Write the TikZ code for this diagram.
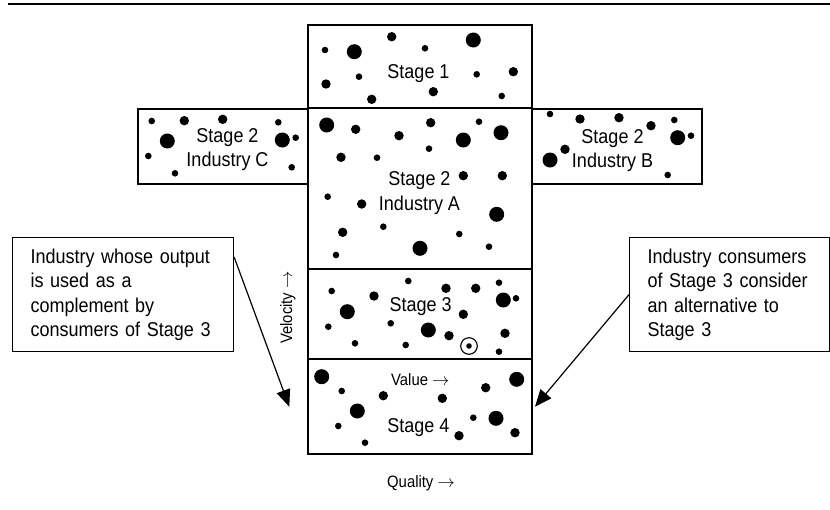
\documentclass[tikz,border=0pt]{standalone}
\usepackage{fontspec}
\setmainfont{Liberation Sans}[FakeStretch=0.9]
\usetikzlibrary{positioning,arrows.meta}
\tikzset{
  stagebox/.style={draw, line width=1.1pt, minimum width=224pt, inner sep=0pt},
  sidebox/.style={draw, line width=1.1pt, minimum width=170pt,
                  minimum height=75pt, inner sep=0pt},
  stagelabel/.style={font=\fontsize{20}{24.5}\selectfont, align=center,
                     anchor=base, inner sep=0pt},
  notebox/.style={draw, line width=1.1pt, align=left, anchor=north west,
                  inner xsep=18pt, inner ysep=11pt,
                  font=\fontsize{20}{24.5}\selectfont},
  axislabel/.style={font=\fontsize{16.5}{19}\selectfont, anchor=base,
                    inner sep=0pt},
  calloutarrow/.style={-{Triangle[length=17pt,width=14pt]}, line width=1.2pt},
  smalldot/.style={fill=black, radius=3.3},
  middot/.style={fill=black, radius=4.7},
  bigdot/.style={fill=black, radius=7.5},
}

\begin{document}
\begin{tikzpicture}[x=1pt,y=-1pt]
\useasboundingbox (0,0) rectangle (830,509);
\draw[line width=1.5pt] (8,4) -- (830,4);
%% Stage boxes
\node[stagebox, minimum height=83pt]  (st1) at (420,66.5)  {};
\node[stagebox, minimum height=161pt] (st2a) at (420,188.5) {};
\node[sidebox] (st2c) at (223,146.5) {};
\node[sidebox] (st2b) at (617,146.5) {};
\node[stagebox, minimum height=90pt]  (st3) at (420,314)   {};
\node[stagebox, minimum height=95pt]  (st4) at (420,406.5) {};
%% Dots
\foreach \p in {(325,50),(425,48.3),(359,76.7),(476.7,74.3),(501.7,96),
  (151.7,121),(148.3,156),(175,173.3),(278.3,122.3),(295.7,137.7),(291.7,167.3),
  (550,114),(674.3,120),(691,135.7),(667.7,175),
  (479,121.7),(377,157.7),(429,148.7),(327.7,196.7),(383.3,226.7),(459.3,234),
  (336,255),(489,246.7),
  (331.7,291),(408.3,281),(499,282.7),(516,298.3),(328.3,326.7),(390.7,323.3),
  (355,343.3),(405.7,345),(499,351.7),
  (341.7,391),(338.3,426),(365,442.7),(473.3,417.7)}
  \fill[smalldot] \p circle;
\foreach \p in {(391.7,36.7),(326,84),(371.7,99.3),(433.3,91.7),(513.3,71.7),
  (184.3,120.7),(222.7,119.3),
  (580,119),(619,117.7),(651,125.7),(565,149.3),
  (355.7,129.3),(399,135.7),(430.7,122.7),(341,157.3),(463.3,175.7),(502.3,175.7),
  (361.7,204),(342.7,232.3),
  (374,296),(446,288.3),(475.7,288.3),(463.3,314.3),(449,335.7),(505,333.3),
  (383.3,395.7),(442.3,398.3),(485.7,387.7),(459,435.7),(515,432.7)}
  \fill[middot] \p circle;
\foreach \p in {(354.3,51.7),(473.3,40),(167.3,141),(282.3,140),
  (677.7,137.7),(550,160),
  (326.7,125),(463.3,140),(501,132.7),(496.7,214.3),(420,248.3),
  (503.3,300),(347.3,311.7),(428.3,330),
  (321.7,376.7),(516.7,379.3),(357.3,411),(496,418.3)}
  \fill[bigdot] \p circle;
\draw[line width=1.1pt] (469,346) circle[radius=8.3];
\fill (469,346) circle[radius=2.8];
%% Labels (base sits on the last line)
\node[stagelabel] (lab1)  at (418.5,78)  {Stage 1};
\node[stagelabel] (lab2a) at (419.5,210) {Stage 2\\Industry A};
\node[stagelabel] (lab2c) at (227.5,166.7) {Stage 2\\Industry C};
\node[stagelabel] (lab2b) at (612.5,167.5) {Stage 2\\Industry B};
\node[stagelabel] (lab3)  at (420.7,311.7) {Stage 3};
\node[stagelabel] (lab4)  at (418.3,432.7) {Stage 4};
\node[axislabel] (value) at (420.3,385) {Value $\rightarrow$};
\node[axislabel] (quality) at (421,487) {Quality $\rightarrow$};
\node[axislabel, rotate=90] (velocity) at (292,307.5) {Velocity $\rightarrow$};
%% Callouts
\node[notebox, text width=185pt] (lnote) at (12,237)
  {Industry whose output\\is used as a\\complement by\\consumers of Stage 3};
\node[notebox, text width=164pt] (rnote) at (629,237)
  {Industry consumers\\of Stage 3 consider\\an alternative to\\Stage 3};
\coordinate (ltip) at (289.3,406.7);
\coordinate (rtip) at (535,406.7);
\draw[calloutarrow] ([yshift=-20pt]lnote.north east) -- (ltip);
\draw[calloutarrow] (rnote.west) -- (rtip);
\end{tikzpicture}
\end{document}
